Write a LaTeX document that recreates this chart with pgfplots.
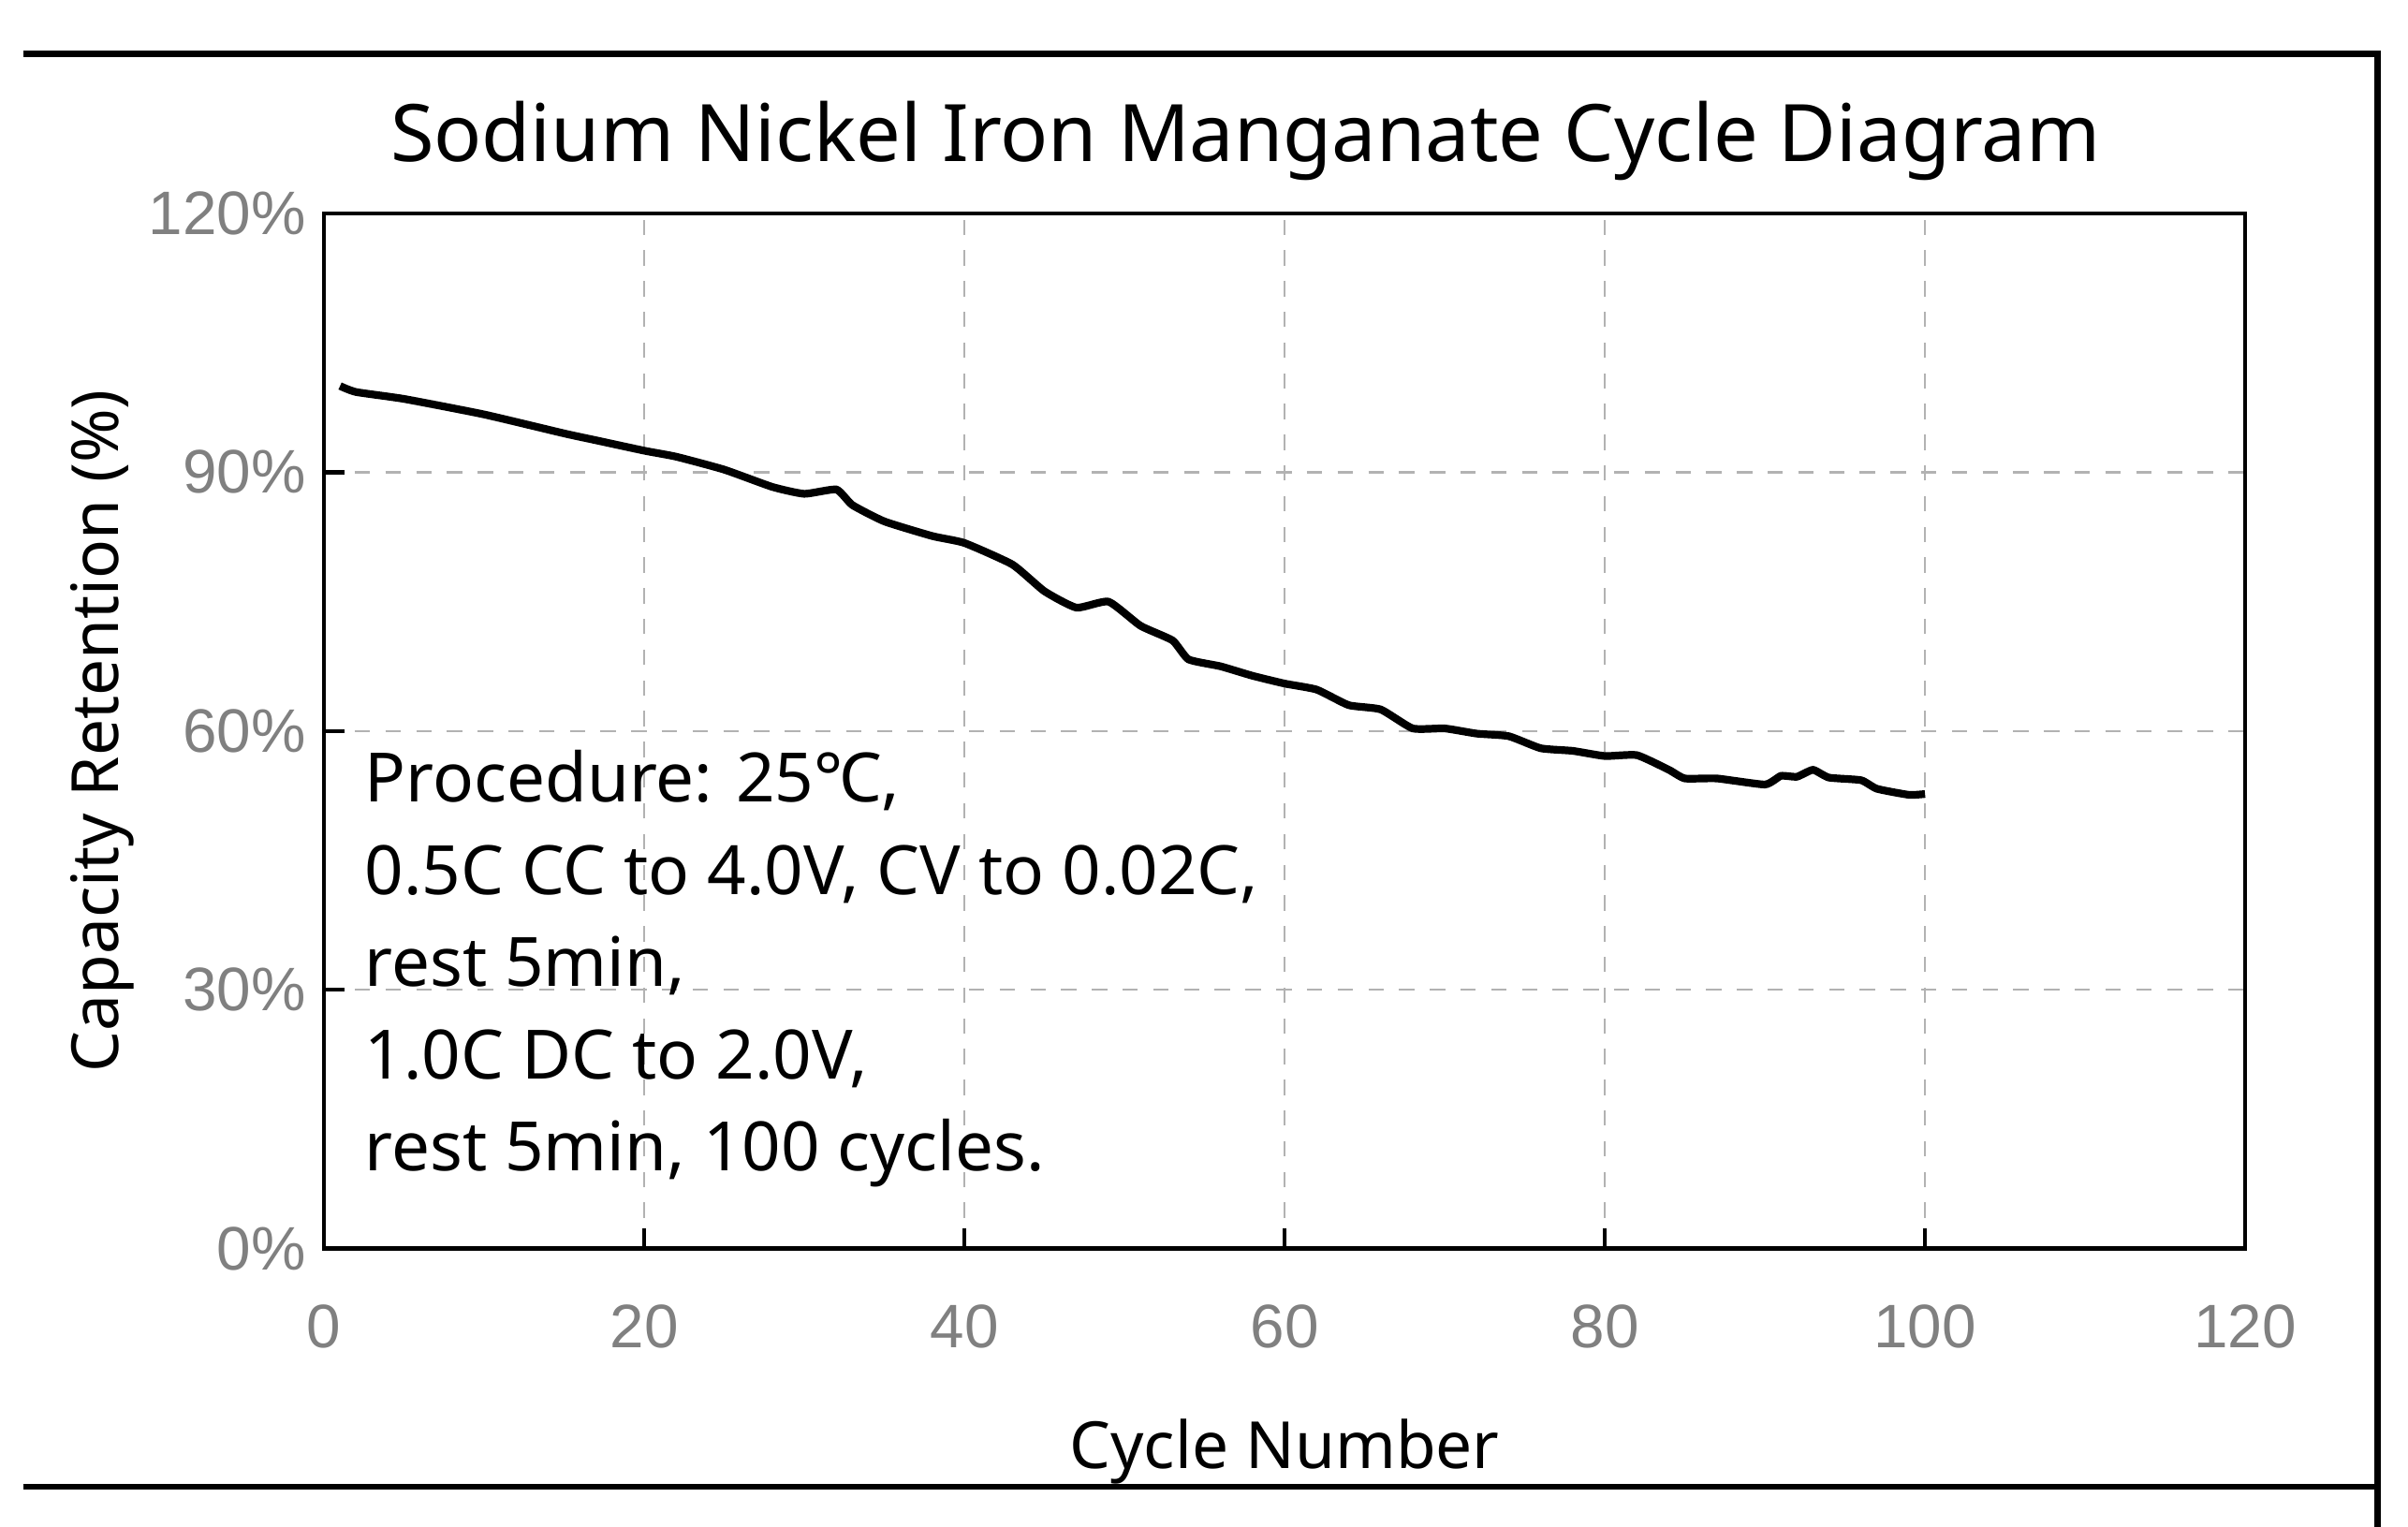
\documentclass[border=0pt]{standalone}
\usepackage{pgfplots}
\pgfplotsset{compat=1.18}
\usepackage{fontspec}
\setmainfont{Noto Sans}
\newfontfamily\tickfont{Liberation Sans}
\begin{document}
\begin{tikzpicture}
\useasboundingbox (-63.3pt,-54.3pt) rectangle (407.1pt,243.9pt);
\begin{axis}[scale only axis, width=375.3pt, height=202.2pt,
 at={(0,0)}, anchor=south west,
 xmin=0,xmax=120,ymin=0,ymax=120,
 xtick={0,20,...,120}, ytick={0,30,...,120},
 yticklabel={\pgfmathprintnumber{\tick}\%},
 /pgf/number format/assume math mode=true,
 ticklabel style={font=\tickfont\fontsize{12}{14}\selectfont, text=black!50},
 xticklabel style={yshift=-7.5pt},
 grid=major, grid style={dashed, black!30, line width=0.4pt},
 axis line style={line width=0.8pt},
 tick style={black, line width=0.8pt}, tick align=inside, major tick length=4pt,
 xtick pos=bottom, ytick pos=left,
 xlabel={Cycle Number}, ylabel={Capacity Retention (\%)},
 label style={font=\fontsize{12.7}{15}\selectfont},
 xlabel style={yshift=-7pt}, ylabel style={yshift=-4pt},
 clip=false]
\addplot[black, line width=1.5pt, smooth, tension=0.3] coordinates {
(1,100)(2,99.3)(5,98.5)(10,96.7)(15,94.5)(17,93.7)(20,92.5)(22,91.8)(25,90.3)(28,88.3)(30,87.5)(32,88)(33,86.2)(35,84.3)(38,82.6)(40,81.8)(43,79.3)(45,76.2)(47,74.3)(49,75)(51,72.2)(53,70.5)(54,68.3)(56,67.5)(58,66.4)(60,65.5)(62,64.8)(64,63)(66,62.5)(68,60.3)(70,60.3)(72,59.7)(74,59.4)(76,58)(78,57.7)(80,57.1)(82,57.2)(84,55.5)(85,54.5)(87,54.5)(90,53.8)(91,54.8)(92,54.7)(93,55.5)(94,54.6)(96,54.3)(97,53.3)(99,52.6)(100,52.7)};
\end{axis}
\draw[line width=1.2pt] (-58.8pt,233.4pt) -- (401.1pt,233.4pt) -- (401.1pt,-54.3pt);
\draw[line width=1.2pt] (-58.8pt,-46.5pt) -- (401.1pt,-46.5pt);
\node[font=\fontsize{15.5}{18}\selectfont] at (180pt,216.3pt) {Sodium Nickel Iron Manganate Cycle Diagram};
\node[anchor=north west, align=left, inner sep=0pt, font=\fontsize{13.3}{18}\selectfont] at (7.8pt,97.5pt)
{Procedure: 25℃,\\0.5C CC to 4.0V, CV to 0.02C,\\rest 5min,\\1.0C DC to 2.0V,\\rest 5min, 100 cycles.};
\end{tikzpicture}
\end{document}
